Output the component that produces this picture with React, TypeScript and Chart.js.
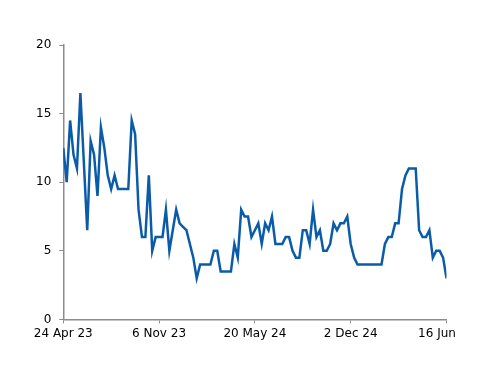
import React, { useEffect, useRef } from "react";
import { Chart, registerables } from "chart.js";

Chart.register(...registerables);

// Weekly observations, first week = 24 Apr 23, last week = 16 Jun 25
const startWeek = "24 Apr 23";
const tickLabels = ["24 Apr 23", "6 Nov 23", "20 May 24", "2 Dec 24", "16 Jun 25"];
const yTicks = [0, 5, 10, 15, 20];
const values = [
  12.5, 10, 14.5, 12, 11, 16.5, 11.5, 6.5, 13, 12,
  9, 14, 12.5, 10.5, 9.5, 10.5, 9.5, 9.5, 9.5, 9.5,
  14.5, 13.5, 8, 6, 6, 10.5, 5, 6, 6, 6,
  8, 5, 6.5, 8, 7, 6.75, 6.5, 5.5, 4.5, 3,
  4, 4, 4, 4, 5, 5, 3.5, 3.5, 3.5, 3.5,
  5.5, 4.5, 8, 7.5, 7.5, 6, 6.5, 7, 5.5, 7,
  6.5, 7.5, 5.5, 5.5, 5.5, 6, 6, 5, 4.5, 4.5,
  6.5, 6.5, 5.5, 8, 6, 6.5, 5, 5, 5.5, 7,
  6.5, 7, 7, 7.5, 5.5, 4.5, 4, 4, 4, 4,
  4, 4, 4, 4, 5.5, 6, 6, 7, 7, 9.5,
  10.5, 11, 11, 11, 6.5, 6, 6, 6.5, 4.5, 5,
  5, 4.5, 3,
];

const weeksPerTick = 28;

export default function App() {
  const ref = useRef<HTMLCanvasElement | null>(null);

  useEffect(() => {
    if (!ref.current) return;
    const axisColor = "#8c8c8c";
    const font = { family: "'DejaVu Sans', sans-serif", size: 12 };
    const chart = new Chart(ref.current, {
      type: "line",
      data: {
        datasets: [
          {
            label: "From " + startWeek,
            data: values.map((v, i) => ({ x: i, y: v })),
            borderColor: "#0b5ca8",
            borderWidth: 2.5,
            pointRadius: 0,
            fill: false,
            tension: 0,
          },
        ],
      },
      options: {
        responsive: false,
        animation: false,
        devicePixelRatio: 1,
        layout: { padding: { left: 20, right: 13.5, top: 37, bottom: 24.2 } },
        plugins: { legend: { display: false }, tooltip: { enabled: false } },
        scales: {
          x: {
            type: "linear",
            min: 0,
            max: values.length - 1,
            afterFit: (s: any) => {
              s.paddingRight = 0;
              s.paddingLeft = 0;
            },
            afterBuildTicks: (s: any) => {
              s.ticks = tickLabels.map((_, k) => ({ value: k * weeksPerTick }));
            },
            ticks: {
              autoSkip: false,
              maxRotation: 0,
              padding: 3,
              color: "#000",
              font,
              callback: (v: any) => tickLabels[Math.round(Number(v) / weeksPerTick)] ?? "",
            },
            grid: { drawOnChartArea: false, drawTicks: true, tickLength: 4, color: axisColor, lineWidth: 1 },
            border: { color: axisColor, width: 1.5 },
          },
          y: {
            min: 0,
            max: 20,
            afterBuildTicks: (s: any) => {
              s.ticks = yTicks.map((v) => ({ value: v }));
            },
            ticks: { padding: 8, color: "#000", font },
            grid: { drawOnChartArea: false, drawTicks: true, tickLength: 4, color: axisColor, lineWidth: 1 },
            border: { color: axisColor, width: 1.5 },
          },
        },
      },
    });
    return () => chart.destroy();
  }, []);

  return (
    <div style={{ width: 452, height: 360, overflow: "hidden", background: "#fff" }}>
      <canvas ref={ref} width={452} height={360} style={{ display: "block" }} />
    </div>
  );
}
